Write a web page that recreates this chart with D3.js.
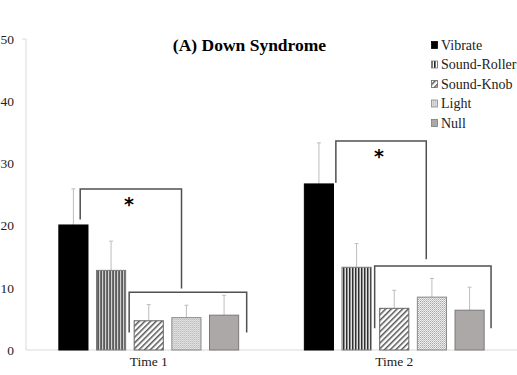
<!DOCTYPE html>
<html>
<head>
<meta charset="utf-8">
<script src="https://cdn.jsdelivr.net/npm/d3@7"></script>
<style>
  body { margin: 0; background: #fff; }
  svg { display: block; font-family: "Liberation Serif", "Times New Roman", serif; }
</style>
</head>
<body>
<div id="chart"></div>
<script>
const times = ['Time 1', 'Time 2'];
const conditions = ['Vibrate', 'Sound-Roller', 'Sound-Knob', 'Light', 'Null'];
const means = [
    [20.1, 12.8, 4.7, 5.2, 5.6],
    [26.7, 13.3, 6.7, 8.5, 6.4]
];
const errors = [
    [5.8, 4.7, 2.6, 2.0, 3.2],
    [6.6, 3.8, 2.9, 3.0, 3.7]
];
const yTicks = [0, 10, 20, 30, 40, 50];

// significance brackets: x in bar-step units from first bar's left edge, y in data units
const upperBrackets = [
    {x1: 0.58, x2: 3.27, top: 25.9, leftEnd: 21.0, rightEnd: 9.9},
    {x1: 0.85, x2: 3.25, top: 33.6, leftEnd: 26.9, rightEnd: 14.6}
];
const lowerBrackets = [
    {x1: 1.88, x2: 5.0, top: 9.3, end: 2.8},
    {x1: 1.88, x2: 4.97, top: 13.5, end: 3.5}
];

const fullW = 517, fullH = 375;
const margin = {top: 39, right: 0, bottom: 25, left: 26};
const width = fullW - margin.left - margin.right;
const height = fullH - margin.top - margin.bottom;

const svg = d3.select('#chart').append('svg')
    .attr('width', fullW)
    .attr('height', fullH);

const defs = svg.append('defs');

// vertical stripes
const pStripe = defs.append('pattern')
    .attr('id', 'p-roller').attr('patternUnits', 'userSpaceOnUse')
    .attr('width', 3).attr('height', 3);
pStripe.append('rect').attr('width', 3).attr('height', 3).attr('fill', '#fff');
pStripe.append('rect').attr('width', 1.6).attr('height', 3).attr('fill', '#222');

// diagonal hatch
const pHatch = defs.append('pattern')
    .attr('id', 'p-knob').attr('patternUnits', 'userSpaceOnUse')
    .attr('width', 4).attr('height', 4)
    .attr('patternTransform', 'rotate(45)');
pHatch.append('rect').attr('width', 4).attr('height', 4).attr('fill', '#fff');
pHatch.append('rect').attr('width', 1.5).attr('height', 4).attr('fill', '#555');

// dots
const pDot = defs.append('pattern')
    .attr('id', 'p-light').attr('patternUnits', 'userSpaceOnUse')
    .attr('width', 2).attr('height', 2);
pDot.append('rect').attr('width', 2).attr('height', 2).attr('fill', '#fafafa')
    .attr('shape-rendering', 'crispEdges');
pDot.append('rect').attr('width', 1).attr('height', 1).attr('fill', '#9a9a9a')
    .attr('shape-rendering', 'crispEdges');
pDot.append('rect').attr('x', 1).attr('y', 1).attr('width', 1).attr('height', 1).attr('fill', '#bbb')
    .attr('shape-rendering', 'crispEdges');

const fills = ['#000', 'url(#p-roller)', 'url(#p-knob)', 'url(#p-light)', '#aca8a8'];
const strokes = ['#000', '#7a7a7a', '#666', '#8a8a8a', '#7a7a7a'];

const g = svg.append('g').attr('transform', `translate(${margin.left},${margin.top})`);

const x0 = d3.scaleBand().domain(times).range([0, width]).padding(0);
const x1 = d3.scaleBand().domain(conditions)
    .range([0, 37.7 * 4 + 30]).paddingInner(0.2).paddingOuter(0);
const y = d3.scaleLinear().domain([0, 50]).range([height, 0]);

const innerW = x1.step() * 4 + x1.bandwidth();
const groupX = t => x0(t) + (x0.bandwidth() - innerW) / 2;
const stepX = (t, u) => groupX(t) + u * x1.step();

// axes
g.append('line')
    .attr('x1', 0).attr('x2', 0).attr('y1', y(50)).attr('y2', y(0))
    .attr('stroke', '#d9d9d9');
g.append('line')
    .attr('x1', -4).attr('x2', 0).attr('y1', y(50)).attr('y2', y(50))
    .attr('stroke', '#d9d9d9');
g.append('line')
    .attr('x1', 0).attr('x2', width).attr('y1', y(0)).attr('y2', y(0))
    .attr('stroke', '#d9d9d9');

g.selectAll('.ytick').data(yTicks).join('text')
    .attr('x', -12).attr('y', d => y(d)).attr('dy', '0.35em')
    .attr('text-anchor', 'end')
    .attr('font-size', 13.5).attr('fill', '#222')
    .text(d => d);

g.selectAll('.xlab').data(times).join('text')
    .attr('x', d => x0(d) + x0.bandwidth() / 2)
    .attr('y', height + 16)
    .attr('text-anchor', 'middle')
    .attr('font-size', 13.5).attr('fill', '#222')
    .text(d => d);

// bars + error bars
times.forEach((t, ti) => {
    const grp = g.append('g').attr('transform', `translate(${groupX(t)},0)`);
    conditions.forEach((c, ci) => {
        const v = means[ti][ci];
        const cx = x1(c) + x1.bandwidth() / 2;
        const top = v + errors[ti][ci];
        grp.append('line')
            .attr('x1', cx).attr('x2', cx)
            .attr('y1', y(v)).attr('y2', y(top))
            .attr('stroke', '#bdbdbd').attr('stroke-width', 1);
        grp.append('line')
            .attr('x1', cx - 2).attr('x2', cx + 2)
            .attr('y1', y(top)).attr('y2', y(top))
            .attr('stroke', '#bdbdbd').attr('stroke-width', 1);
        grp.append('rect')
            .attr('x', x1(c) + 0.5).attr('y', y(v))
            .attr('width', x1.bandwidth() - 1)
            .attr('height', y(0) - y(v))
            .attr('fill', fills[ci])
            .attr('stroke', strokes[ci]).attr('stroke-width', 1);
    });
});

// significance brackets
const bracketColor = '#505050';
times.forEach((t, ti) => {
    const ub = upperBrackets[ti];
    g.append('path')
        .attr('d', `M${stepX(t, ub.x1)},${y(ub.leftEnd)}V${y(ub.top)}H${stepX(t, ub.x2)}V${y(ub.rightEnd)}`)
        .attr('fill', 'none').attr('stroke', bracketColor).attr('stroke-width', 1.5);
    const lb = lowerBrackets[ti];
    g.append('path')
        .attr('d', `M${stepX(t, lb.x1)},${y(lb.end)}V${y(lb.top)}H${stepX(t, lb.x2)}V${y(lb.end)}`)
        .attr('fill', 'none').attr('stroke', bracketColor).attr('stroke-width', 1.5);
    g.append('text')
        .attr('x', (stepX(t, ub.x1) + stepX(t, ub.x2)) / 2 - 2)
        .attr('y', y(ub.top) + 22)
        .attr('text-anchor', 'middle')
        .attr('font-size', 19).attr('font-weight', 'bold')
        .attr('font-family', 'DejaVu Sans, sans-serif')
        .text('*');
});

// title
svg.append('text')
    .attr('x', 249.5).attr('y', 51)
    .attr('text-anchor', 'middle')
    .attr('font-size', 17.5).attr('font-weight', 'bold')
    .text('(A) Down Syndrome');

// legend
const legend = svg.append('g').attr('transform', 'translate(431,45)');
conditions.forEach((c, i) => {
    const row = legend.append('g').attr('transform', `translate(0,${i * 19.5})`);
    row.append('rect')
        .attr('x', 0.5).attr('y', -3.5).attr('width', 6).attr('height', 7)
        .attr('fill', fills[i]).attr('stroke', strokes[i]).attr('stroke-width', 0.8);
    row.append('text')
        .attr('x', 10).attr('y', 0).attr('dy', '0.35em')
        .attr('font-size', 14).attr('fill', '#222')
        .text(c);
});
</script>
</body>
</html>
